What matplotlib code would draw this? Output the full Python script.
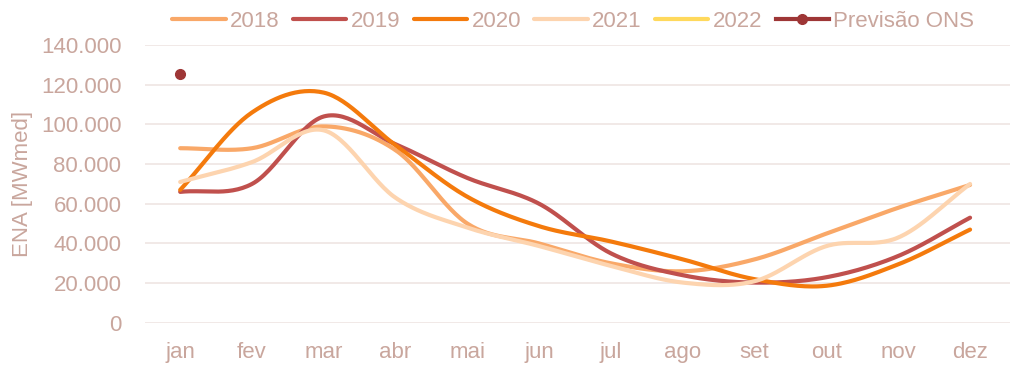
import matplotlib
matplotlib.use("Agg")
import matplotlib.pyplot as plt
import numpy as np
from matplotlib.lines import Line2D
from matplotlib.ticker import FuncFormatter

MONTHS = ["jan", "fev", "mar", "abr", "mai", "jun", "jul", "ago", "set", "out", "nov", "dez"]

ENA_2018 = [88000, 88000, 99000, 87000, 50000, 40000, 30000, 26000, 32000, 45000, 58000, 69500]
ENA_2019 = [66000, 70000, 104000, 90000, 73000, 60000, 35000, 24000, 20300, 23000, 33700, 53000]
ENA_2020 = [67000, 106000, 116000, 89500, 63500, 48700, 41000, 32000, 22000, 18700, 29500, 47000]
ENA_2021 = [71000, 81000, 97000, 63000, 48000, 38700, 28700, 20300, 21000, 38700, 43000, 70000]
ENA_2022 = []
PREVISAO_ONS = [125500]

SERIES = [
    ("2018", ENA_2018, "#F9A868"),
    ("2019", ENA_2019, "#C0504D"),
    ("2020", ENA_2020, "#F47A0C"),
    ("2021", ENA_2021, "#FDD4AF"),
    ("2022", ENA_2022, "#FFD95C"),
]
TEXT_COLOR = "#C9A69D"
ONS_COLOR = "#9E3636"


def smooth(y, steps=30):
    """Catmull-Rom curve through the monthly points (like Excel smoothed lines)."""
    y = np.asarray(y, dtype=float)
    x = np.arange(len(y), dtype=float)
    if len(y) < 3:
        return x, y
    px = np.concatenate([[2 * x[0] - x[1]], x, [2 * x[-1] - x[-2]]])
    py = np.concatenate([[2 * y[0] - y[1]], y, [2 * y[-1] - y[-2]]])
    xs, ys = [], []
    t = np.linspace(0, 1, steps, endpoint=False)
    for i in range(1, len(px) - 2):
        for arr, out in ((px, xs), (py, ys)):
            p0, p1, p2, p3 = arr[i - 1], arr[i], arr[i + 1], arr[i + 2]
            m1 = (p2 - p0) / 2
            m2 = (p3 - p1) / 2
            h00 = 2 * t**3 - 3 * t**2 + 1
            h10 = t**3 - 2 * t**2 + t
            h01 = -2 * t**3 + 3 * t**2
            h11 = t**3 - t**2
            out.extend(h00 * p1 + h10 * m1 + h01 * p2 + h11 * m2)
    xs.append(x[-1])
    ys.append(y[-1])
    return np.array(xs), np.array(ys)


plt.rcParams["font.family"] = ["Liberation Sans", "DejaVu Sans"]

fig = plt.figure(figsize=(10.24, 3.75), dpi=100)
ax = fig.add_axes([0.1416, 0.139, 0.845, 0.741])

handles = []
for name, values, color in SERIES:
    if values:
        sx, sy = smooth(values)
        ax.plot(sx, sy, color=color, lw=3, solid_capstyle="round", zorder=3)
    handles.append(Line2D([], [], color=color, lw=3, solid_capstyle="round", label=name))

ax.plot(range(len(PREVISAO_ONS)), PREVISAO_ONS, "o", color=ONS_COLOR, ms=7, zorder=4)
handles.append(Line2D([], [], color=ONS_COLOR, lw=3, marker="o", ms=7, label="Previsão ONS"))

ax.set_xlim(-0.49, 11.56)
ax.set_ylim(0, 140000)
ax.set_xticks(range(len(MONTHS)))
ax.set_xticklabels(MONTHS)
ax.set_yticks(np.arange(0, 140001, 20000))
ax.yaxis.set_major_formatter(FuncFormatter(lambda v, _: f"{int(v):,}".replace(",", ".")))
ax.grid(axis="y", color="#EFE5E3", lw=1.2)
ax.set_axisbelow(True)
for s in ax.spines.values():
    s.set_visible(False)
ax.tick_params(length=0, labelsize=16, colors=TEXT_COLOR, pad=14)
ax.tick_params(axis="y", pad=17)
ax.set_ylabel("ENA [MWmed]", fontsize=16, color=TEXT_COLOR, labelpad=6)

fig.legend(handles=handles, loc="upper center", bbox_to_anchor=(0.56, 1.025), ncol=6,
           frameon=False, fontsize=16, labelcolor=TEXT_COLOR, handlelength=2.4,
           handletextpad=0.2, columnspacing=0.6)

fig.savefig("out.png", dpi=100)
